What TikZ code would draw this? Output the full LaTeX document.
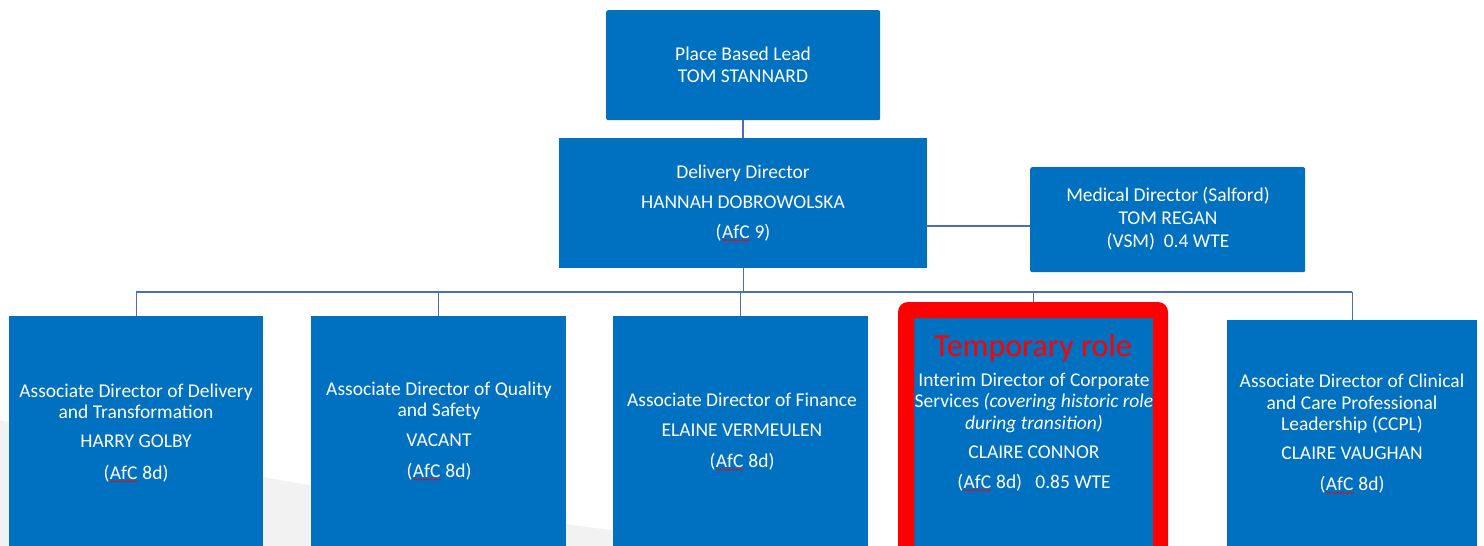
\documentclass[tikz,border=0pt]{standalone}
\usepackage{fontspec}
\setmainfont{Carlito}
\usetikzlibrary{decorations.pathmorphing}
\definecolor{boxblue}{HTML}{0070C0}
\definecolor{linec}{HTML}{4A6FB5}
\definecolor{swoosh}{HTML}{F2F2F2}
\definecolor{redframe}{HTML}{FF0000}
\newcommand{\afcmark}{\tikz[baseline=(afc.base)]{\node[inner sep=0pt,text=white] (afc) {AfC};
  \draw[red, line width=0.5pt, decorate, decoration={snake, amplitude=0.6pt, segment length=2.2pt}] ([yshift=-1.5pt]afc.south west) -- ([yshift=-1.5pt]afc.south east);}}
\begin{document}
\begin{tikzpicture}[x=1pt,y=-1pt,
  box/.style={fill=boxblue, draw=none, inner sep=0pt, anchor=north west},
  txt/.style={text=white, align=center, font=\fontsize{19.5}{21.5}\selectfont, inner sep=0pt},
  conn/.style={draw=linec, line width=1.2pt}]
\useasboundingbox (0,0) rectangle (1484,546);
\fill[swoosh] plot[smooth] coordinates {(0,420) (263,477) (565,524) (900,565)} -- (900,580) -- (0,580) -- cycle;

% boxes
\node[box, rounded corners=2pt, minimum width=274pt, minimum height=110pt] (top) at (606,10) {};
\node[box, minimum width=368pt, minimum height=130pt] (dd) at (559,138) {};
\node[box, rounded corners=2pt, minimum width=275pt, minimum height=105pt] (md) at (1030,167) {};
\node[box, minimum width=254pt, minimum height=250pt] (b1) at (9,316) {};
\node[box, minimum width=255pt, minimum height=250pt] (b2) at (311,316) {};
\node[box, minimum width=255pt, minimum height=250pt] (b3) at (613,316) {};
\node[box, minimum width=239pt, minimum height=250pt] (b4) at (914,318) {};
\node[box, minimum width=250pt, minimum height=250pt] (b5) at (1227,320) {};

% connectors
\coordinate (mdj) at (0,226);
\coordinate (bus) at (0,292);
\draw[conn, line width=2pt] (top.south) -- (dd.north);
\draw[conn] (dd.east |- mdj) -- (md.west |- mdj);
\draw[conn] (dd.south) -- (dd.south |- bus);
\draw[conn] (b1.north |- bus) -- (b5.north |- bus);
\foreach \b in {b1,b2,b3,b4,b5} { \draw[conn] (\b.north |- bus) -- (\b.north); }

% texts
\node[txt, font=\fontsize{19.5}{22}\selectfont] (ttop) at (743,65) {Place Based Lead\\TOM STANNARD};
\node[txt] (tdd) at (743,203) {Delivery Director\\[8.5pt]HANNAH DOBROWOLSKA\\[8.5pt](\afcmark{} 9)};
\node[txt] (tmd) at (1168,219) {Medical Director (Salford)\\[1.5pt]TOM REGAN\\[1.5pt](VSM)\ \ 0.4 WTE};
\node[txt] (t1) at (136,433) {Associate Director of Delivery\\and Transformation\\[7.5pt]HARRY GOLBY\\[10pt](\afcmark{} 8d)};
\node[txt] (t2) at (439,431) {Associate Director of Quality\\and Safety\\[8.5pt]VACANT\\[9.5pt](\afcmark{} 8d)};
\node[txt] (t3) at (742,432) {Associate Director of Finance\\[8.5pt]ELAINE VERMEULEN\\[9.5pt](\afcmark{} 8d)};
\node[txt] (t4) at (1034,432) {Interim Director of Corporate\\Services \textit{(covering historic role}\\\textit{during transition)}\\[7.5pt]CLAIRE CONNOR\\[8.5pt](\afcmark{} 8d)\ \ \ 0.85 WTE};
\node[txt] (t5) at (1352,434) {Associate Director of Clinical\\and Care Professional\\Leadership (CCPL)\\[7.5pt]CLAIRE VAUGHAN\\[9.5pt](\afcmark{} 8d)};

% red frame on top
\fill[redframe, even odd rule, rounded corners=10pt] (898,302) rectangle (1168,580) [sharp corners] (914,318) rectangle (1153,580);
\node[text=redframe, font=\fontsize{32}{36}\selectfont, inner sep=0pt] (temp) at (1033,348) {Temporary role};
\end{tikzpicture}
\end{document}
